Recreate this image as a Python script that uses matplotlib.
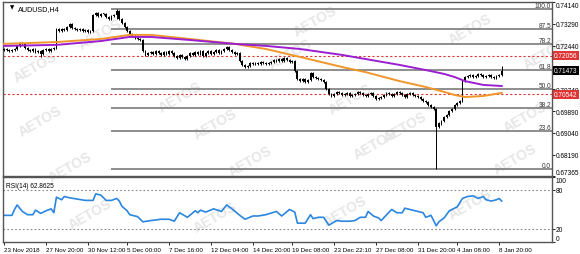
import numpy as np
import matplotlib.pyplot as plt

plt.rcParams['font.family'] = ['Liberation Sans', 'DejaVu Sans']

# AUDUSD H4 closes, one per bar
closes = [
    0.7231, 0.7227, 0.7223, 0.7227, 0.7231, 0.7243, 0.7254, 0.7250, 0.7235, 0.7227,
    0.7223, 0.7231, 0.7219, 0.7223, 0.7211, 0.7227, 0.7231, 0.7223, 0.7231, 0.7235,
    0.7309, 0.7301, 0.7309, 0.7305, 0.7317, 0.7328, 0.7313, 0.7309, 0.7305, 0.7309,
    0.7301, 0.7305, 0.7297, 0.7301, 0.7363, 0.7371, 0.7359, 0.7367, 0.7367, 0.7355,
    0.7348, 0.7359, 0.7363, 0.7379, 0.7348, 0.7332, 0.7317, 0.7301, 0.7289, 0.7282,
    0.7274, 0.7270, 0.7266, 0.7223, 0.7208, 0.7215, 0.7219, 0.7211, 0.7223, 0.7215,
    0.7208, 0.7219, 0.7211, 0.7223, 0.7215, 0.7204, 0.7196, 0.7208, 0.7200, 0.7192,
    0.7204, 0.7215, 0.7208, 0.7219, 0.7211, 0.7223, 0.7204, 0.7215, 0.7223, 0.7211,
    0.7219, 0.7227, 0.7215, 0.7223, 0.7231, 0.7239, 0.7227, 0.7219, 0.7211, 0.7215,
    0.7184, 0.7169, 0.7161, 0.7165, 0.7176, 0.7172, 0.7176, 0.7172, 0.7180, 0.7176,
    0.7172, 0.7176, 0.7180, 0.7188, 0.7184, 0.7192, 0.7184, 0.7196, 0.7188, 0.7180,
    0.7184, 0.7145, 0.7114, 0.7106, 0.7114, 0.7102, 0.7110, 0.7137, 0.7122, 0.7118,
    0.7114, 0.7110, 0.7102, 0.7075, 0.7055, 0.7048, 0.7055, 0.7063, 0.7059, 0.7052,
    0.7055, 0.7059, 0.7048, 0.7052, 0.7055, 0.7063, 0.7059, 0.7052, 0.7048, 0.7055,
    0.7059, 0.7048, 0.7036, 0.7040, 0.7044, 0.7052, 0.7059, 0.7055, 0.7048, 0.7055,
    0.7063, 0.7059, 0.7052, 0.7044, 0.7055, 0.7059, 0.7052, 0.7048, 0.7044, 0.7036,
    0.7028, 0.7024, 0.7013, 0.7005, 0.6997, 0.6927, 0.6942, 0.6950, 0.6966, 0.6974,
    0.6989, 0.6997, 0.7013, 0.7020, 0.7028, 0.7106, 0.7122, 0.7126, 0.7130, 0.7122,
    0.7126, 0.7134, 0.7130, 0.7122, 0.7126, 0.7130, 0.7122, 0.7118, 0.7126, 0.7130,
    0.7147,
]
first_open = 0.7227

# bars with long shadows
wick_bars = [14, 43, 165, 190]
wick_high = [0.7227, 0.7387, 0.6997, 0.7165]
wick_low = [0.7200, 0.7348, 0.6764, 0.7130]

# moving averages (bar, value)
ma_bars = [0, 20, 37, 48, 56, 71, 88, 100, 113, 129, 138, 151, 161, 168, 172, 176, 183, 190]
ma_orange = [0.7251, 0.7258, 0.7270, 0.7286, 0.7286, 0.7270, 0.7251, 0.7231, 0.7200,
             0.7161, 0.7141, 0.7106, 0.7083, 0.7064, 0.7052, 0.7044, 0.7048, 0.7060]
ma_purple = [0.7243, 0.7247, 0.7262, 0.7278, 0.7278, 0.7266, 0.7251, 0.7243, 0.7231,
             0.7208, 0.7192, 0.7169, 0.7149, 0.7134, 0.7122, 0.7106, 0.7091, 0.7087]

# RSI(14) (bar, value)
rsi_bars = [0, 3, 4, 5, 7, 9, 11, 12, 14, 16, 18, 19, 20, 22, 23, 25, 28, 31, 34, 35,
            37, 39, 41, 43, 44, 45, 47, 48, 51, 53, 56, 60, 63, 65, 67, 70, 73, 74, 75, 77,
            80, 83, 85, 87, 90, 92, 95, 97, 100, 104, 106, 109, 111, 112, 115, 117, 118, 120, 122, 124,
            127, 129, 132, 134, 136, 138, 139, 141, 143, 144, 147, 148, 150, 152, 153, 156, 158, 160, 161, 163,
            165, 166, 168, 170, 173, 175, 177, 179, 181, 183, 184, 186, 188, 189, 190]
rsi_vals = [41, 41, 50, 57, 47, 42, 42, 49, 44, 48, 51, 45, 69, 65, 70, 68, 66, 64, 64, 74,
            72, 64, 64, 67, 63, 55, 48, 42, 39, 31, 33, 35, 35, 32, 45, 38, 48, 45, 49, 46,
            51, 47, 57, 51, 41, 35, 40, 40, 42, 47, 40, 50, 46, 29, 29, 42, 36, 38, 38, 26,
            33, 32, 32, 33, 38, 38, 47, 40, 37, 33, 46, 50, 45, 45, 52, 49, 47, 45, 38, 41,
            25, 31, 37, 48, 54, 67, 70, 71, 67, 70, 65, 63, 65, 67, 63]

# fibonacci retracement
fib_high = 0.7387
fib_low = 0.6764
fib_start = 41
fib_levels = [100.0, 87.5, 78.2, 61.8, 50.0, 38.2, 23.6, 0.0]

price_ticks = [0.74140, 0.73290, 0.72440, 0.70740, 0.69890, 0.69040, 0.68190, 0.67365]
red_levels = [0.72056, 0.70542]
last_price = 0.71473

time_ticks = [0, 16, 32, 47, 63, 79, 95, 110, 126, 142, 158, 173, 189]
time_labels = ['23 Nov 2018', '27 Nov 20:00', '30 Nov 12:00', '5 Dec 00:00', '7 Dec 16:00',
               '12 Dec 04:00', '14 Dec 20:00', '19 Dec 08:00', '23 Dec 22:10', '27 Dec 08:00',
               '31 Dec 20:00', '4 Jan 08:00', '8 Jan 20:00']

fig = plt.figure(figsize=(5.8, 2.55), dpi=100)
W, H = 580, 255
ax = fig.add_axes([3 / W, 1 - 177 / H, 549 / W, 174 / H])
axr = fig.add_axes([3 / W, 1 - 243 / H, 549 / W, 65 / H], sharex=ax)

# watermark (drawn behind the panels)
marks = [(35, 68), (100, 35), (40, 122), (70, 168), (180, 98), (215, 125), (250, 162),
         (315, 22), (350, 100), (375, 145), (405, 128), (470, 30), (525, 118), (545, 55),
         (90, 215), (215, 218), (345, 212), (470, 205), (515, 160), (290, 55)]
for mx, my in marks:
    fig.text(mx / W, 1 - my / H, 'AETOS', rotation=30, fontsize=10, fontweight='bold',
             color='#e6e6e6', ha='center', va='center', zorder=-1)
ax.patch.set_alpha(0)
axr.patch.set_alpha(0)

n = len(closes)
x = np.arange(n)
c = np.array(closes)
o = np.concatenate([[first_open], c[:-1]])
lo_body = np.minimum(o, c)
hi_body = np.maximum(o, c)
hi = hi_body + 0.0005
lo = lo_body - 0.0005
for b, wh, wl in zip(wick_bars, wick_high, wick_low):
    hi[b] = max(hi[b], wh)
    lo[b] = min(lo[b], wl)

ax.vlines(x, lo, hi, color='black', lw=0.7, zorder=3)
ax.bar(x, np.maximum(hi_body - lo_body, 0.0003), bottom=lo_body, width=0.7,
       color='black', zorder=3)

ax.plot(ma_bars, ma_orange, color='#f0962a', lw=1.4, zorder=4)
ax.plot(ma_bars, ma_purple, color='#9b1fd0', lw=1.4, zorder=4)

fs = 4.7

# fib lines
rng = fib_high - fib_low
for lv in fib_levels:
    p = fib_low + rng * lv / 100
    ax.hlines(p, fib_start, 209.2, color='#7a7a7a', lw=1.2, zorder=2)
    ax.text(208.8, p, f'{lv:.1f}', fontsize=fs, ha='right', va='bottom', color='#333333')

for p in red_levels:
    ax.axhline(p, color='#e03535', lw=0.8, ls=(0, (2, 2)), zorder=2)
    ax.annotate(f'{p:.5f}', xy=(1.0, p), xycoords=('axes fraction', 'data'),
                xytext=(1.5, 0), textcoords='offset points', fontsize=fs, color='white',
                va='center', ha='left', zorder=6,
                bbox=dict(boxstyle='square,pad=0.15', fc='#e03535', ec='none'))
ax.annotate(f'{last_price:.5f}', xy=(1.0, last_price), xycoords=('axes fraction', 'data'),
            xytext=(1.5, 0), textcoords='offset points', fontsize=fs, color='white',
            va='center', ha='left', zorder=6,
            bbox=dict(boxstyle='square,pad=0.15', fc='black', ec='none'))

ax.set_xlim(-0.4, 209.2)
ax.set_ylim(0.67365, 0.74140)
ax.yaxis.tick_right()
ax.set_yticks(price_ticks)
ax.set_yticklabels([f'{p:.5f}' for p in price_ticks], fontsize=fs)
ax.tick_params(axis='y', length=2, pad=0.8, width=0.6)
ytl = ax.get_yticklabels()
ytl[0].set_va('top')
ytl[-1].set_va('bottom')
ax.tick_params(axis='x', bottom=False, labelbottom=False)
for s in ax.spines.values():
    s.set_linewidth(1.0)
    s.set_color('#555555')
ax.text(0.012, 0.985, '\u25bc', transform=ax.transAxes, fontsize=4, va='top',
        family='DejaVu Sans')
ax.text(0.028, 0.985, 'AUDUSD,H4', transform=ax.transAxes, fontsize=5.2, va='top')

# RSI panel
axr.plot(rsi_bars, rsi_vals, color='#2b86e0', lw=1.2)
for lv in (80, 20):
    axr.axhline(lv, color='#888888', lw=0.8, ls=(0, (1.5, 2)))
axr.set_ylim(0, 100)
axr.yaxis.tick_right()
axr.set_yticks([0, 20, 80, 100])
axr.set_yticklabels(['0', '20', '80', '100'], fontsize=fs)
axr.tick_params(axis='y', length=2, pad=0.8, width=0.6)
rtl = axr.get_yticklabels()
rtl[0].set_va('bottom')
rtl[-1].set_va('top')
axr.set_xticks(time_ticks)
axr.set_xticklabels(time_labels, fontsize=4.5, ha='left')
axr.tick_params(axis='x', length=2, pad=1.5, width=0.6)
for s in axr.spines.values():
    s.set_linewidth(1.0)
    s.set_color('#555555')
axr.text(0.006, 0.93, 'RSI(14) 62.8625', transform=axr.transAxes, fontsize=fs, va='top')

fig.savefig('out.png', dpi=100)
